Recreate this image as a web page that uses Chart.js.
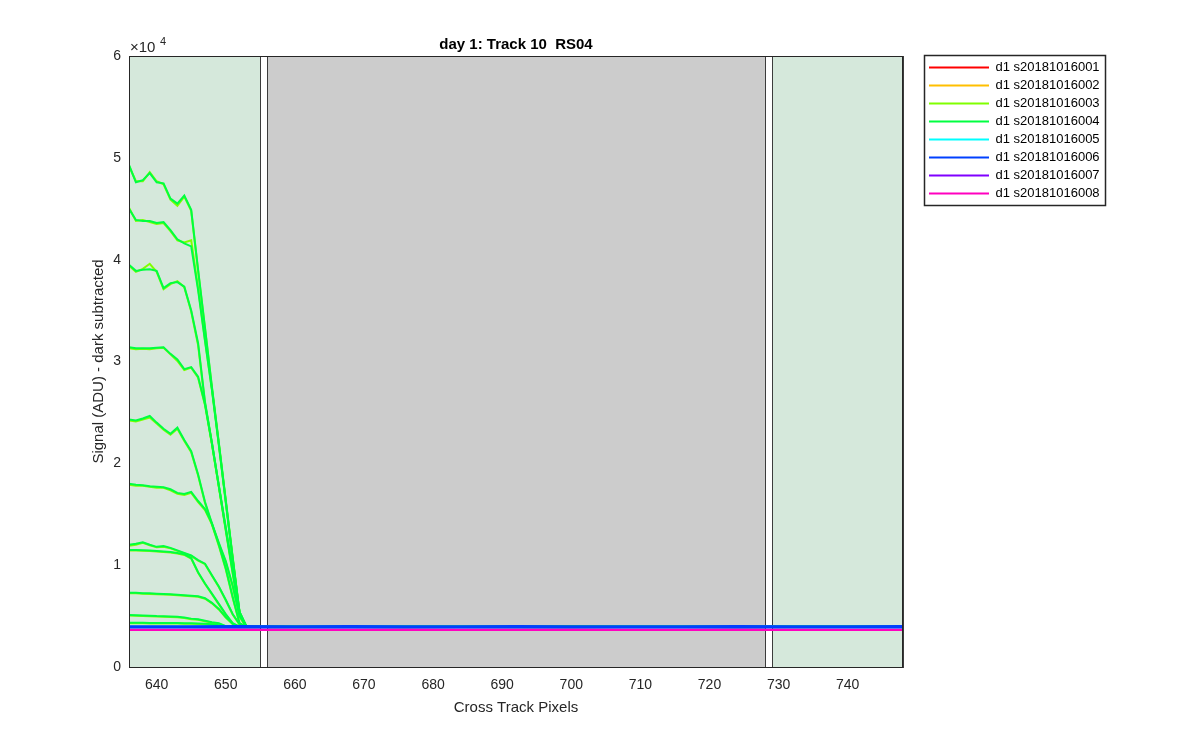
<!DOCTYPE html>
<html>
<head>
<meta charset="utf-8">
<script src="https://cdn.jsdelivr.net/npm/chart.js@4.4.1/dist/chart.umd.min.js"></script>
<style>
  body { margin: 0; background: #fff; }
  #wrap { width: 1200px; height: 750px; }
</style>
</head>
<body>
<div id="wrap"><canvas id="plot" width="1200" height="750"></canvas></div>
<script>
// --- DATOS ---

// archivos de la leyenda
const files = ['d1 s20181016001', 'd1 s20181016002', 'd1 s20181016003', 'd1 s20181016004',
               'd1 s20181016005', 'd1 s20181016006', 'd1 s20181016007', 'd1 s20181016008'];

// ejes
const xTicks = [640, 650, 660, 670, 680, 690, 700, 710, 720, 730, 740];
const yTicks = [0, 10000, 20000, 30000, 40000, 50000, 60000];

// zonas de fondo (pixeles)
const zoneStart = [636, 656, 729];
const zoneEnd = [655, 728, 748];

// columnas de las curvas que caen (003 y 004)
const xCurve = [636, 637, 638, 639, 640, 641, 642, 643, 644, 645, 646, 647, 648, 649, 650, 651, 652, 653, 748];
// columnas de las lineas planas
const xBase = [636, 644, 652, 660, 668, 676, 684, 692, 700, 708, 716, 724, 732, 740, 748];

// s20181016001
const red1 = [3920, 3930, 3910, 3925, 3935, 3915, 3920, 3930, 3910, 3925, 3920, 3915, 3930, 3920, 3925];
// s20181016002
const orange1 = [3930, 3920, 3935, 3915, 3925, 3930, 3920, 3910, 3930, 3920, 3935, 3925, 3915, 3930, 3920];

// s20181016003
const lime1 = [49200, 47700, 47700, 48600, 47700, 47400, 45900, 45300, 46200, 44800, 38900, 33200, 27400, 21900, 16300, 10700, 5300, 3940, 3940];
const lime2 = [45100, 43800, 43900, 43700, 43500, 43600, 42800, 41900, 41700, 41900, 37200, 32100, 27300, 21900, 16300, 10700, 5300, 3940, 3940];
const lime3 = [39400, 38800, 39100, 39600, 38800, 37100, 37600, 37900, 37300, 34900, 31600, 25900, 21900, 17700, 13600, 9500, 5300, 3940, 3940];
const lime4 = [31300, 31200, 31250, 31200, 31300, 31350, 30700, 30050, 29150, 29400, 28400, 25700, 21900, 17700, 13400, 9200, 5100, 3940, 3940];
const lime5 = [24200, 24100, 24300, 24500, 23900, 23300, 22800, 23400, 22200, 21100, 18800, 16100, 14000, 11900, 9600, 6800, 4250, 3940, 3940];
const lime6 = [17900, 17800, 17800, 17700, 17600, 17600, 17350, 17000, 16900, 17100, 16200, 15400, 14000, 12100, 10300, 7900, 4900, 3940, 3940];
const lime7 = [11900, 12000, 12200, 11950, 11750, 11800, 11650, 11400, 11150, 10900, 10450, 10100, 8950, 7850, 6550, 5150, 4150, 3940, 3940];
const lime8 = [11450, 11430, 11420, 11400, 11350, 11300, 11250, 11150, 11000, 10650, 9250, 8150, 7150, 6150, 5150, 4250, 3940, 3940, 3940];
const lime9 = [7250, 7230, 7200, 7180, 7150, 7130, 7100, 7050, 7000, 6950, 6900, 6700, 6250, 5650, 4850, 4200, 3940, 3940, 3940];
const lime10 = [5050, 5030, 5010, 4990, 4950, 4930, 4910, 4890, 4800, 4700, 4630, 4500, 4350, 4250, 3980, 3940, 3940, 3940, 3940];
const lime11 = [4300, 4290, 4290, 4280, 4280, 4270, 4270, 4260, 4250, 4250, 4230, 4200, 4150, 4050, 3970, 3940, 3940, 3940, 3940];

// s20181016004
const green1 = [49300, 47600, 47800, 48500, 47600, 47500, 46000, 45500, 46300, 44900, 39000, 33300, 27500, 22000, 16400, 10800, 5400, 3950, 3950];
const green2 = [45000, 43900, 43800, 43800, 43600, 43700, 42900, 42000, 41600, 41300, 37000, 32000, 27200, 21800, 16200, 10600, 5300, 3950, 3950];
const green3 = [39500, 38900, 39000, 39050, 38900, 37200, 37700, 37800, 37350, 35000, 31800, 26000, 22000, 17800, 13700, 9600, 5400, 3950, 3950];
const green4 = [31400, 31300, 31300, 31300, 31350, 31400, 30750, 30200, 29250, 29450, 28500, 25800, 22000, 17800, 13500, 9300, 5200, 3950, 3950];
const green5 = [24300, 24200, 24400, 24650, 24000, 23400, 22900, 23500, 22300, 21200, 18900, 16200, 14100, 12000, 9700, 6900, 4300, 3950, 3950];
const green6 = [18000, 17900, 17850, 17750, 17700, 17650, 17450, 17100, 17000, 17200, 16300, 15500, 14100, 12200, 10400, 8000, 5000, 3950, 3950];
const green7 = [12000, 12100, 12250, 12000, 11800, 11880, 11700, 11450, 11200, 10950, 10500, 10150, 9000, 7900, 6600, 5200, 4200, 3950, 3950];
const green8 = [11500, 11480, 11460, 11450, 11400, 11350, 11300, 11200, 11060, 10700, 9300, 8200, 7200, 6200, 5200, 4300, 3950, 3950, 3950];
const green9 = [7300, 7280, 7250, 7230, 7200, 7180, 7150, 7100, 7050, 7000, 6950, 6750, 6300, 5700, 4900, 4250, 3950, 3950, 3950];
const green10 = [5100, 5080, 5060, 5040, 5000, 4980, 4960, 4940, 4850, 4750, 4680, 4550, 4400, 4300, 4000, 3950, 3950, 3950, 3950];
const green11 = [4350, 4340, 4340, 4330, 4330, 4320, 4320, 4310, 4300, 4300, 4280, 4250, 4200, 4100, 4000, 3950, 3950, 3950, 3950];

// s20181016005 .. 008
const cyan1 = [3950, 3960, 3940, 3955, 3965, 3945, 3950, 3960, 3940, 3955, 3950, 3945, 3960, 3950, 3955];
const blue1 = [4010, 4000, 4020, 4005, 4015, 4000, 4010, 4020, 4005, 4010, 4000, 4015, 4010, 4005, 4015];
const blue2 = [3880, 3890, 3870, 3885, 3875, 3890, 3880, 3870, 3885, 3880, 3890, 3875, 3880, 3885, 3870];
const violet1 = [3660, 3650, 3665, 3655, 3660, 3650, 3655, 3665, 3650, 3660, 3655, 3650, 3660, 3655, 3660];
const magenta1 = [3640, 3630, 3645, 3635, 3640, 3630, 3635, 3645, 3630, 3640, 3635, 3630, 3640, 3635, 3640];

// curvas de cada archivo
const curvesByFile = [
    [red1],
    [orange1],
    [lime1, lime2, lime3, lime4, lime5, lime6, lime7, lime8, lime9, lime10, lime11],
    [green1, green2, green3, green4, green5, green6, green7, green8, green9, green10, green11],
    [cyan1],
    [blue1, blue2],
    [violet1],
    [magenta1]
];

// --- ESTILO ---
const fileColors = ['#ff0000', '#ffbf00', '#80ff00', '#00ff40', '#00ffff', '#0040ff', '#8000ff', '#ff00bf'];
const zoneColors = ['rgb(213,232,219)', 'rgb(204,204,204)', 'rgb(213,232,219)'];
const AXIS_COLOR = '#262626';
const FONT = '"Liberation Sans", Arial, Helvetica, sans-serif';

Chart.defaults.font.family = FONT;
Chart.defaults.color = AXIS_COLOR;

// --- DATASETS ---
let datasets = [];
curvesByFile.forEach((curves, f) => {
    curves.forEach((ys, c) => {
        const xs = ys.length === xCurve.length ? xCurve : xBase;
        datasets.push({
            label: files[f],
            data: xs.map((x, i) => ({ x: x, y: ys[i] })),
            borderColor: fileColors[f],
            backgroundColor: fileColors[f],
            borderWidth: 2,
            pointRadius: 0,
            pointHoverRadius: 0,
            pointBorderWidth: 2,
            tension: 0,
            order: 7 - f,     // el ultimo archivo queda encima
            firstOfFile: c === 0
        });
    });
});

// --- PLUGINS ---

// fondo verde / gris detras de las curvas, marco, exponente y caja de leyenda
const zonesPlugin = {
    id: 'zones',
    beforeDatasetsDraw(chart) {
        const ctx = chart.ctx;
        const xs = chart.scales.x, ys = chart.scales.y;
        const top = ys.getPixelForValue(60000), bottom = ys.getPixelForValue(0);
        ctx.save();
        zoneStart.forEach((s, i) => {
            const l = Math.round(xs.getPixelForValue(s)) + 0.5;
            const r = Math.round(xs.getPixelForValue(zoneEnd[i])) + 0.5;
            ctx.fillStyle = zoneColors[i];
            ctx.fillRect(l, top, r - l, bottom - top);
            ctx.strokeStyle = '#3c3c3c';
            ctx.lineWidth = 1;
            ctx.strokeRect(l, Math.round(top) + 0.5, r - l, Math.round(bottom - top));
        });
        ctx.restore();
    },
    afterDraw(chart) {
        const ctx = chart.ctx;
        const a = chart.chartArea;
        ctx.save();
        // marco de los ejes
        ctx.strokeStyle = AXIS_COLOR;
        ctx.lineWidth = 1;
        ctx.strokeRect(Math.round(a.left) + 0.5, Math.round(a.top) + 0.5,
                       Math.round(a.right - a.left) - 1, Math.round(a.bottom - a.top));
        // exponente del eje y
        ctx.fillStyle = AXIS_COLOR;
        ctx.textBaseline = 'alphabetic';
        ctx.textAlign = 'left';
        ctx.font = '15px ' + FONT;
        ctx.fillText('\u00d710', a.left + 1, a.top - 4);
        ctx.font = '11px ' + FONT;
        ctx.fillText('4', a.left + 31, a.top - 11);
        // caja de la leyenda
        const lg = chart.legend;
        ctx.strokeStyle = '#262626';
        ctx.lineWidth = 1.5;
        ctx.strokeRect(lg.left + 0.5, lg.top - 0.5, 181, 150);
        ctx.restore();
    }
};

// --- GRAFICA ---
const ctx = document.getElementById('plot').getContext('2d');
const chart = new Chart(ctx, {
    type: 'line',
    data: { datasets: datasets },
    options: {
        responsive: false,
        animation: false,
        devicePixelRatio: 1,
        layout: { padding: { left: 69, right: 91, top: 0, bottom: 29 } },
        scales: {
            x: {
                type: 'linear',
                min: 636,
                max: 748,
                afterBuildTicks: s => { s.ticks = xTicks.map(v => ({ value: v })); },
                afterFit: s => { s.height = 54; },
                grid: { display: false, drawTicks: false },
                border: { display: true, color: AXIS_COLOR, width: 1 },
                ticks: { padding: 10, font: { size: 14 }, color: AXIS_COLOR, maxRotation: 0 },
                title: { display: true, text: 'Cross Track Pixels', font: { size: 15 }, color: AXIS_COLOR,
                         padding: { top: 0, bottom: 4 } }
            },
            y: {
                min: 0,
                max: 60000,
                afterBuildTicks: s => { s.ticks = yTicks.map(v => ({ value: v })); },
                afterFit: s => { s.width = 60; },
                grid: { display: false, drawTicks: false },
                border: { display: true, color: AXIS_COLOR, width: 1 },
                ticks: { padding: 8, font: { size: 14 }, color: AXIS_COLOR, callback: v => String(v / 10000) },
                title: { display: true, text: 'Signal (ADU) - dark subtracted', font: { size: 15 }, color: AXIS_COLOR,
                         padding: { top: 21, bottom: 0 } }
            },
            // eje vacio para separar la leyenda del marco
            gap: {
                position: 'right',
                min: 0,
                max: 1,
                afterFit: s => { s.width = 21; },
                grid: { display: false, drawTicks: false },
                border: { display: false },
                ticks: { display: false }
            }
        },
        plugins: {
            title: {
                display: true,
                text: 'day 1: Track 10  RS04',
                fullSize: false,
                color: '#000',
                font: { size: 15, weight: 'bold' },
                padding: { top: 36, bottom: 2 }
            },
            legend: {
                position: 'right',
                align: 'start',
                fullSize: false,
                maxWidth: 185,
                labels: {
                    usePointStyle: true,
                    pointStyle: 'line',
                    pointStyleWidth: 60,
                    padding: 5,
                    color: '#000',
                    font: { size: 13 },
                    filter: (item, data) => data.datasets[item.datasetIndex].firstOfFile,
                    sort: (a, b) => a.datasetIndex - b.datasetIndex
                }
            },
            tooltip: { enabled: false }
        }
    },
    plugins: [zonesPlugin]
});
</script>
</body>
</html>
